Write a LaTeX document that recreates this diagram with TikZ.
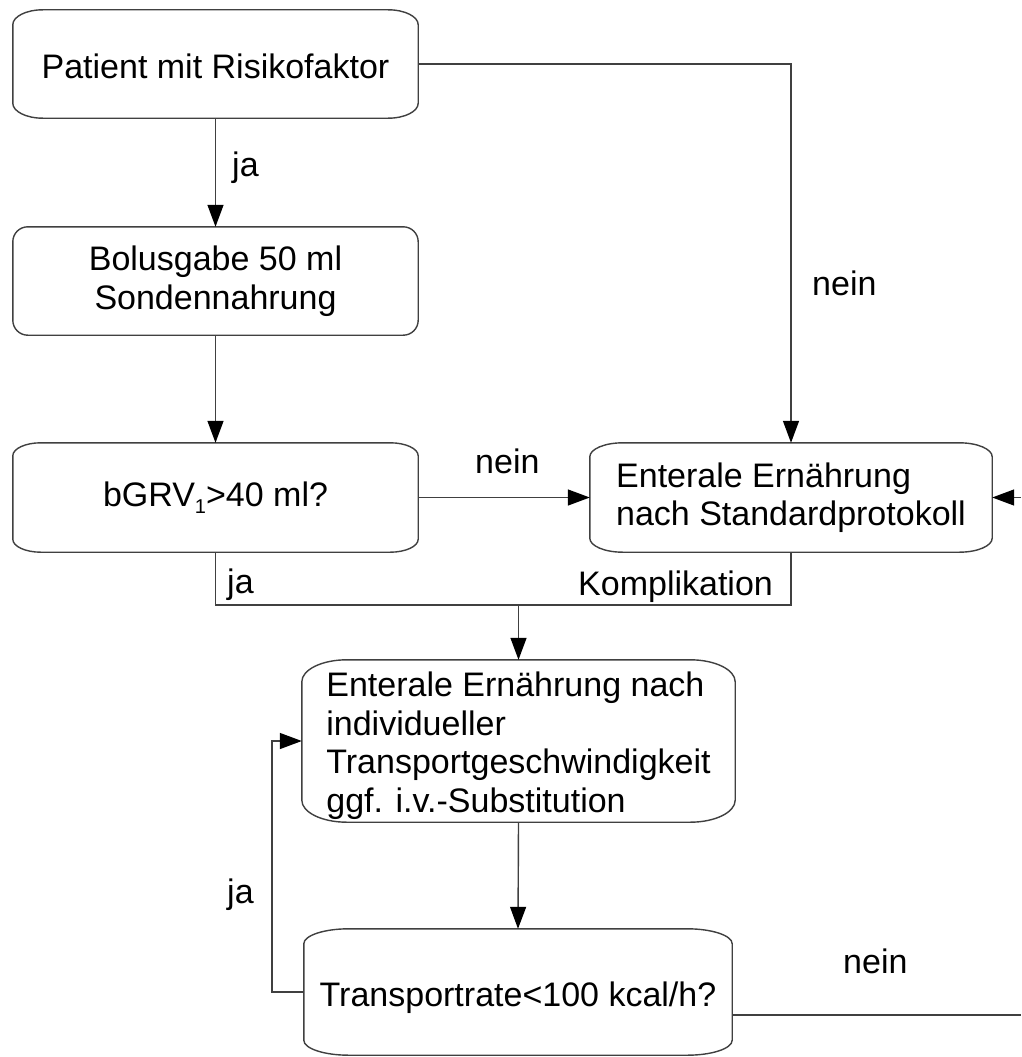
\documentclass[tikz,border=0pt]{standalone}
\usepackage{fontspec}
\setmainfont{Liberation Sans}
\usetikzlibrary{calc,arrows.meta}
\newcommand\ebox[3]{%
  \draw[boxline] let \p1=(#1.north west), \p2=(#1.south east) in
    (\x1+#2,\y1) -- (\x2-#2,\y1)
    arc[start angle=90,end angle=0,x radius=#2,y radius=#3]
    -- (\x2,\y2+#3)
    arc[start angle=0,end angle=-90,x radius=#2,y radius=#3]
    -- (\x1+#2,\y2)
    arc[start angle=-90,end angle=-180,x radius=#2,y radius=#3]
    -- (\x1,\y1-#3)
    arc[start angle=180,end angle=90,x radius=#2,y radius=#3]
    -- cycle;}
\begin{document}
\begin{tikzpicture}[x=1pt,y=-1pt,
  every node/.style={font=\fontsize{34}{38.5}\selectfont},
  box/.style={draw=none,inner sep=0pt,align=center},
  boxline/.style={draw=black!75,line width=1.4pt},
  conn/.style={draw=black!75,line width=1.4pt},
  arr/.style={conn,-{Triangle[length=22pt,width=16pt,color=black]}},
  lbl/.style={anchor=base west,inner sep=0pt}]
\useasboundingbox (0,0) rectangle (1021,1057);
\fill[white] (0,0) rectangle (1021,1057);

\node[box,minimum width=405,minimum height=108] (b1) at (215.5,64) {\raisebox{-2pt}[\height][\depth]{Patient mit Risikofaktor}};
\node[box,minimum width=405,minimum height=108] (b2) at (215.5,281) {Bolusgabe 50 ml\\Sondennahrung};
\node[box,minimum width=405,minimum height=109] (b3) at (215.5,497.5) {bGRV{\fontsize{20}{20}\selectfont\raisebox{-7pt}{1}}>40 ml?};
\node[box,align=left,minimum width=402,minimum height=109] (b4) at (791,497.5) {Enterale Ernährung\\nach Standardprotokoll};
\node[box,minimum width=433,minimum height=162] (b5) at (518.5,741) {\raisebox{-6pt}[\height][\depth]{\begin{tabular}{@{}l@{}}Enterale Ernährung nach\\individueller\\Transportgeschwindigkeit\\ggf. i.v.-Substitution\end{tabular}}};
\node[box,minimum width=428,minimum height=126] (b6) at (518,992) {\raisebox{-6pt}[\height][\depth]{Transportrate<100 kcal/h?}};

\ebox{b1}{30pt}{15pt}
\ebox{b2}{15pt}{15pt}
\ebox{b3}{28pt}{13pt}
\ebox{b4}{33pt}{14pt}
\ebox{b5}{45pt}{22pt}
\ebox{b6}{45pt}{15pt}

\coordinate (rin) at (1021,497.5);
\coordinate (j) at (518.5,605);
\coordinate (rout) at (1021,1015);

\draw[arr] (b1.east) -| (b4.north);
\draw[arr] (b1.south) -- (b2.north);
\draw[arr] (b2.south) -- (b3.north);
\draw[arr] (b3.east) -- (b4.west);
\draw[arr] (rin) -- (b4.east);
\draw[conn] (b3.south) |- (j) -| (b4.south);
\draw[arr] (j) -- (b5.north);
\draw[arr] (b5.south) -- (b6.north);
\draw[arr] (b6.west) -- ++(-32,0) |- (b5.west);
\draw[conn] (rout -| b6.east) -- (rout);

\node[lbl] (l1) at (812,295) {nein};
\node[lbl] (l2) at (232,176) {ja};
\node[lbl] (l3) at (475,473) {nein};
\node[lbl] (l4) at (227,593) {ja};
\node[lbl] (l5) at (578,595) {Komplikation};
\node[lbl] (l6) at (227,903) {ja};
\node[lbl] (l7) at (843,973) {nein};
\end{tikzpicture}
\end{document}
